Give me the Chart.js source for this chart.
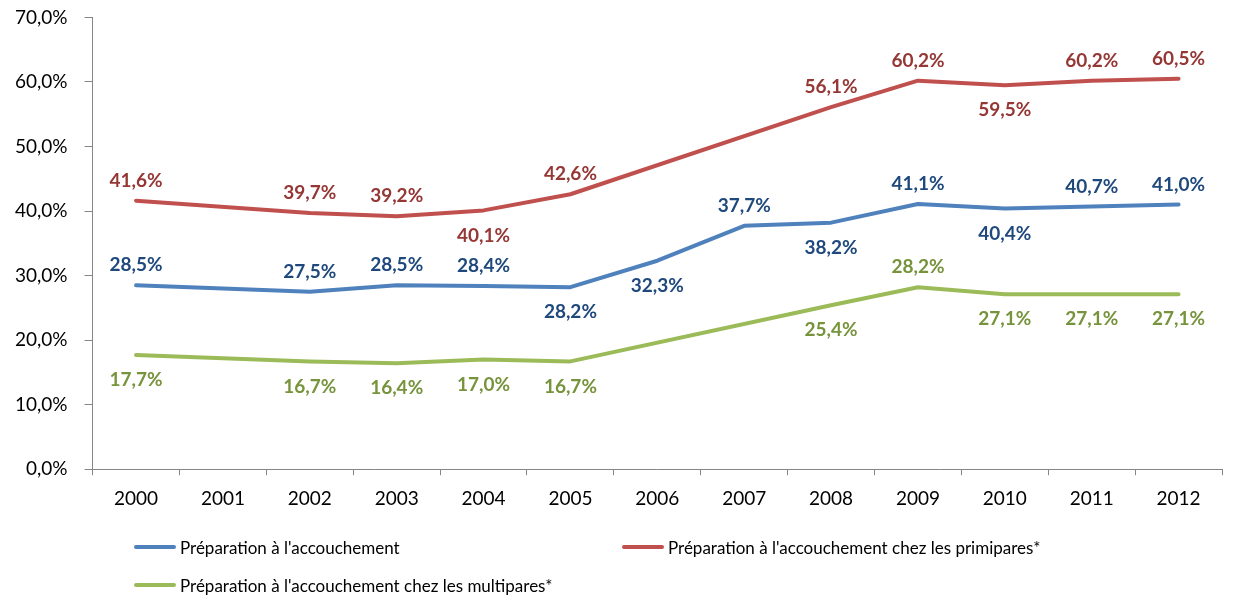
<!DOCTYPE html>
<html>
<head>
<meta charset="utf-8">
<script src="https://cdn.jsdelivr.net/npm/chart.js@4"></script>
<style>
	body { margin: 0; background: #fff; }
	#wrap { position: relative; width: 1241px; height: 601px; overflow: hidden; }
	#chart { position: absolute; left: -3px; top: -11px; }
	#legend { position: absolute; left: 0; top: 0; width: 1241px; height: 601px; pointer-events: none; font-family: Lato, "Open Sans", sans-serif; font-size: 17px; color: #000; }
	.item { position: absolute; display: flex; align-items: center; white-space: nowrap; }
	.swatch { width: 42px; height: 4px; border-radius: 2px; margin-right: 4px; }
</style>
</head>
<body>
<div id="wrap">
	<canvas id="chart" width="1244" height="620"></canvas>
	<div id="legend"></div>
</div>
<script>
const years = ["2000", "2001", "2002", "2003", "2004", "2005", "2006", "2007", "2008", "2009", "2010", "2011", "2012"];
const allBirths = [28.5, null, 27.5, 28.5, 28.4, 28.2, 32.3, 37.7, 38.2, 41.1, 40.4, 40.7, 41.0];
const primipares = [41.6, null, 39.7, 39.2, 40.1, 42.6, null, null, 56.1, 60.2, 59.5, 60.2, 60.5];
const multipares = [17.7, null, 16.7, 16.4, 17.0, 16.7, null, null, 25.4, 28.2, 27.1, 27.1, 27.1];
// where each value label sits, "a" above the line, "b" below
const allBirthsLabelSide = ["a", "", "a", "a", "a", "b", "b", "a", "b", "a", "b", "a", "a"];
const primiparesLabelSide = ["a", "", "a", "a", "b", "a", "", "", "a", "a", "b", "a", "a"];
const multiparesLabelSide = ["b", "", "b", "b", "b", "b", "", "", "b", "a", "b", "b", "b"];
const seriesNames = [
	"Préparation à l'accouchement",
	"Préparation à l'accouchement chez les primipares*",
	"Préparation à l'accouchement chez les multipares*"
];
const lineColors = ["#4F81BD", "#C0504D", "#9BBB59"];
const labelColors = ["#1F497D", "#953735", "#77933C"];
const labelSides = [allBirthsLabelSide, primiparesLabelSide, multiparesLabelSide];

function pct(v) {
	return v.toFixed(1).replace(".", ",") + "%";
}

const valueLabels = {
	id: "valueLabels",
	afterDatasetsDraw(chart) {
		const ctx = chart.ctx;
		ctx.save();
		ctx.font = "bold 19px Lato, 'Open Sans', sans-serif";
		ctx.textAlign = "center";
		ctx.textBaseline = "middle";
		chart.data.datasets.forEach((ds, d) => {
			const meta = chart.getDatasetMeta(d);
			ds.data.forEach((v, i) => {
				if (v === null) return;
				const pt = meta.data[i];
				const side = labelSides[d][i];
				ctx.fillStyle = labelColors[d];
				ctx.fillText(pct(v), pt.x, side === "a" ? pt.y - 20 : pt.y + 25);
			});
		});
		ctx.restore();
	}
};

const datasets = [allBirths, primipares, multipares].map((values, i) => ({
	label: seriesNames[i],
	data: values,
	borderColor: lineColors[i],
	backgroundColor: lineColors[i],
	borderWidth: 4,
	pointRadius: 0,
	tension: 0,
	spanGaps: true,
	borderCapStyle: "round",
	borderJoinStyle: "round"
}));

new Chart(document.getElementById("chart"), {
	type: "line",
	data: { labels: years, datasets: datasets },
	options: {
		responsive: false,
		animation: false,
		layout: { padding: { left: 1, right: 19, top: 6, bottom: 87 } },
		plugins: {
			legend: { display: false },
			tooltip: { enabled: false }
		},
		scales: {
			x: {
				offset: true,
				grid: { offset: true, drawOnChartArea: false, color: "#868686", tickLength: 6 },
				border: { color: "#868686", width: 1 },
				ticks: { color: "#000", font: { family: "Lato", size: 19 }, padding: 12 }
			},
			y: {
				min: 0,
				max: 70,
				grid: { drawOnChartArea: false, color: "#868686", tickLength: 8 },
				border: { color: "#868686", width: 1 },
				ticks: {
					stepSize: 10,
					color: "#000",
					font: { family: "Lato", size: 19 },
					padding: 17,
					callback: (v) => pct(v)
				}
			}
		}
	},
	plugins: [valueLabels]
});

const legend = document.getElementById("legend");
const legendSpots = [[134, 547], [622, 547], [134, 585]];
seriesNames.forEach((name, i) => {
	const item = document.createElement("div");
	item.className = "item";
	item.style.left = legendSpots[i][0] + "px";
	item.style.top = (legendSpots[i][1] - 10) + "px";
	item.style.height = "20px";
	const sw = document.createElement("div");
	sw.className = "swatch";
	sw.style.background = lineColors[i];
	item.appendChild(sw);
	const txt = document.createElement("span");
	txt.innerText = name;
	item.appendChild(txt);
	legend.appendChild(item);
});
</script>
</body>
</html>
